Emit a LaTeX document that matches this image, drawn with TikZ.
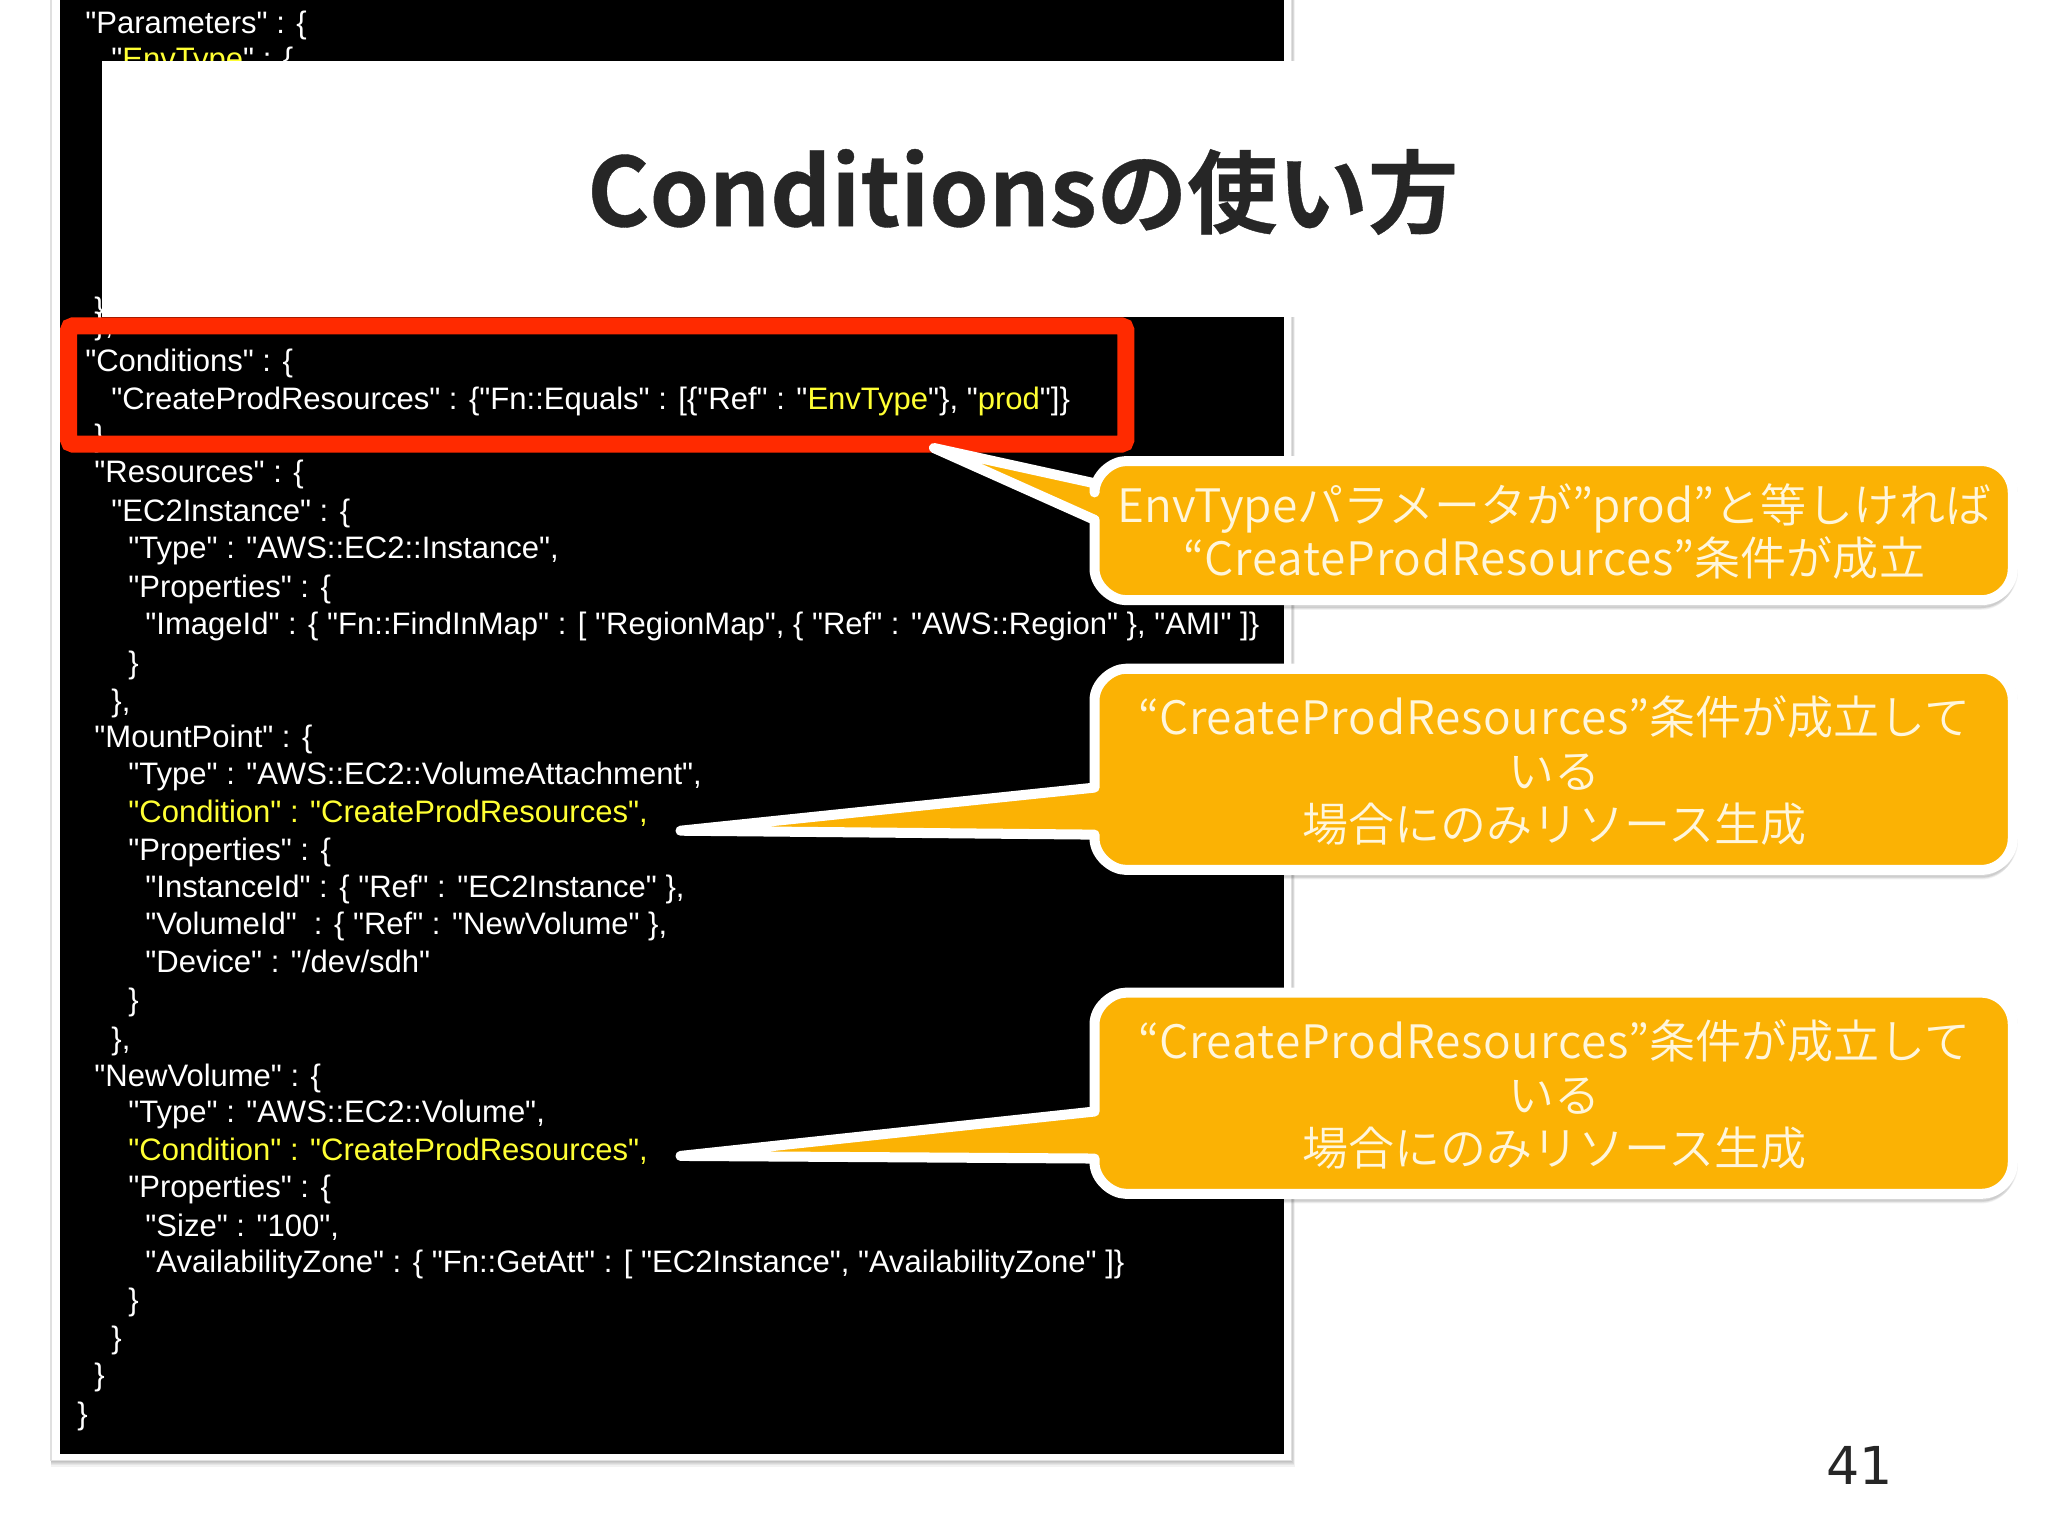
\documentclass[tikz,border=0pt]{standalone}
\usepackage{fontspec}
\newfontfamily\codefont{Liberation Sans}
\newfontfamily\jpfont{Noto Sans CJK JP DemiLight}
\newfontfamily\jpbold[FakeBold=0.4]{Noto Sans CJK JP Bold}
\newfontfamily\numfont{DejaVu Sans}
\definecolor{codeyellow}{HTML}{FFFF33}
\definecolor{boxred}{HTML}{FF2A00}
\definecolor{calloutfill}{HTML}{FBB204}
\definecolor{titlegrey}{HTML}{262626}
\definecolor{calltext}{HTML}{FFF6DC}
\tikzset{
  x=0.6pt,y=-0.6pt,
  codetext/.style={anchor=base west,inner sep=0pt,text=white,font=\codefont\fontsize{14.25pt}{16pt}\selectfont},
  calltxt/.style={anchor=center,inner sep=0pt,text=calltext,align=center,font=\jpfont\fontsize{21.15pt}{24.6pt}\selectfont},
  calloutshape/.style={fill=calloutfill,draw=white,line width=4.6pt,line join=round},
  calloutshade/.style={fill=black,opacity=0.05,draw=black,line join=round},
}
\newcommand{\cl}[4]{\node[codetext] (#1) at (#2,#3-0.5) {#4};}
\newcommand{\yl}[1]{\textcolor{codeyellow}{#1}}
\newcommand{\cpr}{{\addfontfeature{LetterSpace=1.7}CreateProdResources}}
% top y, bottom y, pointer top y, pointer bottom y, tip x, tip y
\newcommand{\calloutpath}[6]{%
  (838,#3) -- (838,#1+24) .. controls (838,#1+11) and (851,#1) .. (862,#1)
  -- (1517,#1) .. controls (1530,#1) and (1541,#1+11) .. (1541,#1+24)
  -- (1541,#2-24) .. controls (1541,#2-11) and (1530,#2) .. (1517,#2)
  -- (862,#2) .. controls (851,#2) and (838,#2-11) .. (838,#2-24)
  -- (838,#4) -- (#5,#6) -- cycle}
\newcommand{\callout}[6]{%
  \foreach \d/\w in {2/4.8pt,4/3.2pt,6/1.6pt}{\draw[calloutshade,line width=\w,yshift=-\d*0.6pt] \calloutpath{#1}{#2}{#3}{#4}{#5}{#6};}
  \draw[calloutshape] \calloutpath{#1}{#2}{#3}{#4}{#5}{#6};}
\begin{document}
\begin{tikzpicture}
\useasboundingbox (0,0) rectangle (1568,1176);
\fill[white] (0,0) rectangle (1568,1176);
% slide card
\foreach \d in {1,2,3,4,5}{\fill[black,opacity=0.05] (39,0) rectangle (989+\d/2,1118+\d);}
\fill[white,draw=black!12,line width=0.6pt] (39,-5) rectangle (989,1118);
\fill[black] (46,0) rectangle (983,1113);
% code
\cl{c1}{65}{26.5}{"Parameters" : \{}
\cl{c2}{85}{54}{"\yl{EnvType}" : \{}
\node[codetext,anchor=south west] (c3) at (72,261) {\vbox{\baselineskip=6.6pt\lineskiplimit=-100pt\hbox{\}}\hbox{\},}}};
\cl{c5}{65}{285}{"Conditions" : \{}
\cl{c6}{85}{314}{"CreateProdResources" : \{"Fn::Equals" : [\{"Ref" : "\yl{EnvType}"\}, "\yl{prod}"]\}}
\cl{c7}{72}{342}{\}}
\cl{c8}{72}{370}{"Resources" : \{}
\cl{c9}{85}{400}{"EC2Instance" : \{}
\cl{c10}{98}{428}{"Type" : "AWS::EC2::Instance",}
\cl{c11}{98}{458}{"Properties" : \{}
\cl{c12}{111}{486}{"ImageId" : \{ "Fn::FindInMap" : [ "RegionMap", \{ "Ref" : "AWS::Region" \}, "AMI" ]\}}
\cl{c13}{98}{516}{\}}
\cl{c14}{85}{545}{\},}
\cl{c15}{72}{573}{"MountPoint" : \{}
\cl{c16}{98}{601}{"Type" : "AWS::EC2::VolumeAttachment",}
\cl{c17}{98}{630}{\yl{"Condition" : "CreateProdResources",}}
\cl{c18}{98}{659}{"Properties" : \{}
\cl{c19}{111}{688}{"InstanceId" : \{ "Ref" : "EC2Instance" \},}
\cl{c20}{111}{716}{"VolumeId"\ \ : \{ "Ref" : "NewVolume" \},}
\cl{c21}{111}{745}{"Device" : "/dev/sdh"}
\cl{c22}{98}{774}{\}}
\cl{c23}{85}{804}{\},}
\cl{c24}{72}{832}{"NewVolume" : \{}
\cl{c25}{98}{860}{"Type" : "AWS::EC2::Volume",}
\cl{c26}{98}{889}{\yl{"Condition" : "CreateProdResources",}}
\cl{c27}{98}{917}{"Properties" : \{}
\cl{c28}{111}{947}{"Size" : "100",}
\cl{c29}{111}{975}{"AvailabilityZone" : \{ "Fn::GetAtt" : [ "EC2Instance", "AvailabilityZone" ]\}}
\cl{c30}{98}{1004}{\}}
\cl{c31}{85}{1033}{\}}
\cl{c32}{72}{1061}{\}}
\cl{c33}{59}{1091}{\}}
% title band
\fill[white] (78,47) rectangle (1568,243);
\node[inner sep=0pt,text=titlegrey,font=\jpbold] (title) at (783,147) {\fontsize{43.7pt}{50pt}\selectfont Conditions\fontsize{41.5pt}{50pt}\selectfont の使い方};
% highlight frame
\draw[boxred,line width=7.8pt,rounded corners=2pt] (52.5,249.5) rectangle (862,340);
% callouts
\callout{353}{459.5}{370}{398}{715}{343}
\callout{512}{666}{603}{639}{521}{636}
\callout{760}{914}{851}{887}{521}{885}
\node[calltxt] (call1) at (1190,407) {EnvTypeパラメータが”prod”と等しければ\\“\cpr”条件が成立};
\node[calltxt] (call2) at (1190,590) {“\cpr”条件が成立して\\いる\\場合にのみリソース生成};
\node[calltxt] (call3) at (1190,838) {“\cpr”条件が成立して\\いる\\場合にのみリソース生成};
\node[inner sep=0pt,text=titlegrey,font=\numfont\fontsize{24pt}{28pt}\selectfont] (page) at (1424,1122) {41};
\end{tikzpicture}
\end{document}
